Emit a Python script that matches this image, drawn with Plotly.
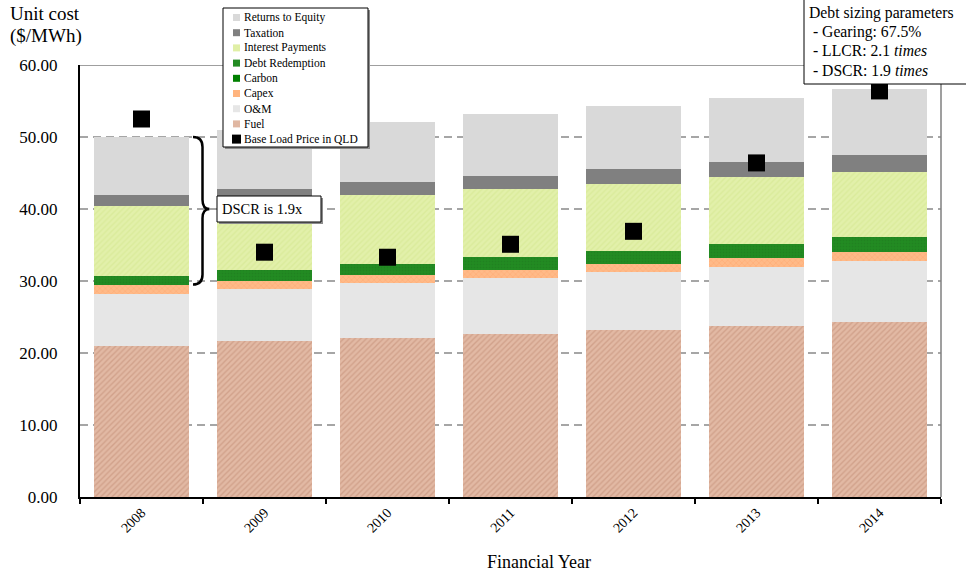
import plotly.graph_objects as go

years = ["2008", "2009", "2010", "2011", "2012", "2013", "2014"]

fuel = [21.0, 21.6, 22.1, 22.6, 23.2, 23.8, 24.3]
om = [7.2, 7.3, 7.6, 7.8, 8.0, 8.1, 8.5]
capex = [1.2, 1.1, 1.1, 1.1, 1.2, 1.3, 1.2]
carbon = [0.0, 0.0, 0.0, 0.0, 0.0, 0.0, 0.0]
debt_redemption = [1.3, 1.5, 1.6, 1.8, 1.8, 1.9, 2.1]
interest = [9.7, 9.8, 9.6, 9.5, 9.3, 9.3, 9.0]
taxation = [1.5, 1.5, 1.8, 1.8, 2.1, 2.1, 2.4]
returns_equity = [8.1, 8.2, 8.3, 8.6, 8.7, 8.9, 9.2]
base_load_price = [52.5, 34.0, 33.3, 35.1, 36.9, 46.4, 56.4]

y_ticks = [0, 10, 20, 30, 40, 50, 60]

debt_params = [
    "Debt sizing parameters",
    " - Gearing: 67.5%",
    " - LLCR: 2.1 <i>times</i>",
    " - DSCR: 1.9 <i>times</i>",
]

SERIF = "Liberation Serif"
W, H = 966, 576
ML, MR, MT, MB = 80, 25, 65, 79
PW, PH = W - ML - MR, H - MT - MB


def px_x(p):
    """pixel column -> paper x"""
    return (p - ML) / PW


def px_y(p):
    """pixel row -> paper y"""
    return (H - MB - p) / PH


def text(x, y, s, size, xanchor="left", **kw):
    fig.add_annotation(
        xref="paper", yref="paper", x=px_x(x), y=px_y(y),
        xanchor=xanchor, yanchor="middle", text=s, showarrow=False,
        font=dict(family=SERIF, size=size, color="black"), **kw,
    )


def box(x0, y0, x1, y1, fill="white", border="black", shadow=None):
    if shadow:
        fig.add_shape(type="rect", xref="paper", yref="paper",
                      x0=px_x(x0 + shadow), x1=px_x(x1 + shadow),
                      y0=px_y(y1 + shadow), y1=px_y(y0 + shadow),
                      fillcolor="#8C8C8C", line=dict(width=0), layer="above")
    fig.add_shape(type="rect", xref="paper", yref="paper",
                  x0=px_x(x0), x1=px_x(x1), y0=px_y(y1), y1=px_y(y0),
                  fillcolor=fill,
                  line=dict(color=border, width=1) if border else dict(width=0),
                  layer="above")


fig = go.Figure()

# stacked components, bottom to top
components = [
    ("Fuel", fuel, "#E0B7A2",
     dict(shape="/", fgcolor="#C08A72", bgcolor="#E2B9A4", size=4, solidity=0.35)),
    ("O&M", om, "#E6E6E6", None),
    ("Capex", capex, "#FFB47E",
     dict(shape="x", fgcolor="#FF9F66", bgcolor="#FFBA88", size=4, solidity=0.3)),
    ("Carbon", carbon, "#008000", None),
    ("Debt Redemption", debt_redemption, "#228B22",
     dict(shape=".", fgcolor="#1E7A1E", bgcolor="#228B22", size=3, solidity=0.3)),
    ("Interest Payments", interest, "#E0EFA6",
     dict(shape="/", fgcolor="#D2E68C", bgcolor="#E2F0AA", size=4, solidity=0.35)),
    ("Taxation", taxation, "#808080", None),
    ("Returns to Equity", returns_equity, "#D9D9D9", None),
]

for name, vals, color, pattern in components:
    marker = dict(color=color, line=dict(width=0))
    if pattern:
        marker["pattern"] = pattern
    fig.add_trace(go.Bar(x=years, y=vals, name=name, marker=marker, showlegend=False))

fig.add_trace(go.Scatter(
    x=years, y=base_load_price, name="Base Load Price in QLD",
    mode="markers", showlegend=False,
    marker=dict(symbol="square", size=17, color="black"),
))

fig.update_layout(
    width=W, height=H,
    barmode="stack",
    bargap=0.23,
    plot_bgcolor="white",
    paper_bgcolor="white",
    margin=dict(l=ML, r=MR, t=MT, b=MB),
    font=dict(family=SERIF, size=16, color="black"),
    showlegend=False,
)

fig.update_yaxes(
    range=[0, 60],
    tickvals=y_ticks,
    ticktext=[f"{v:.2f}" for v in y_ticks],
    tickfont=dict(family=SERIF, size=17),
    showgrid=True, gridcolor="#A6A6A6", griddash="8px,5px", gridwidth=2,
    showline=True, linecolor="black", linewidth=2,
    zeroline=False, ticks="", ticklabelstandoff=17,
    automargin=False,
)

fig.update_xaxes(
    tickangle=-45,
    tickfont=dict(family=SERIF, size=14),
    showline=True, linecolor="black", linewidth=2,
    ticks="outside", ticklen=5, tickcolor="black", tickwidth=2,
    tickson="boundaries",
    showgrid=False,
    automargin=False,
)

# plot area border: top and right
fig.add_shape(type="line", xref="paper", yref="y", x0=0, x1=1, y0=60, y1=60,
              line=dict(color="#7F7F7F", width=1.5))
fig.add_shape(type="line", xref="paper", yref="y", x0=1, x1=1, y0=0, y1=60,
              line=dict(color="#7F7F7F", width=1.5))

# curly brace spanning the debt service portion of the 2008 bar
x0, x1, x2 = px_x(193), px_x(202.5), px_x(209.5)
brace = (
    f"M {x0},50 Q {x1},50 {x1},48.6 L {x1},41.3 Q {x1},40 {x2},40 "
    f"Q {x1},40 {x1},38.7 L {x1},30.9 Q {x1},29.5 {x0},29.5"
)
fig.add_shape(type="path", xref="paper", yref="y", path=brace,
              line=dict(color="black", width=2.5))

# DSCR label
box(217, 196, 321, 222, shadow=2)
text(220, 209, "DSCR is 1.9x", 14.5)

# key box
box(223, 8, 368, 147, shadow=2)
key_items = [(n, c) for n, _, c, _ in reversed(components)] + [("Base Load Price in QLD", "black")]
row_y0, row_step = 17.5, 15.2
for i, (name, color) in enumerate(key_items):
    ry = row_y0 + i * row_step
    half = 4.5 if i == len(key_items) - 1 else 3.5
    fig.add_shape(type="rect", xref="paper", yref="paper",
                  x0=px_x(236.5 - half), x1=px_x(236.5 + half),
                  y0=px_y(ry + half), y1=px_y(ry - half),
                  fillcolor=color, line=dict(width=0), layer="above")
    text(241.5, ry, name, 11.5)

# debt sizing parameters box
box(804, -2, 975, 84)
for i, line in enumerate(debt_params):
    text(807, 13 + i * 19, line, 15.7)

# axis titles
text(8, 14, "Unit cost", 19)
text(8, 36, "($/MWh)", 19)
text(539, 562, "Financial Year", 18, xanchor="center")

fig.write_html("out.html")
